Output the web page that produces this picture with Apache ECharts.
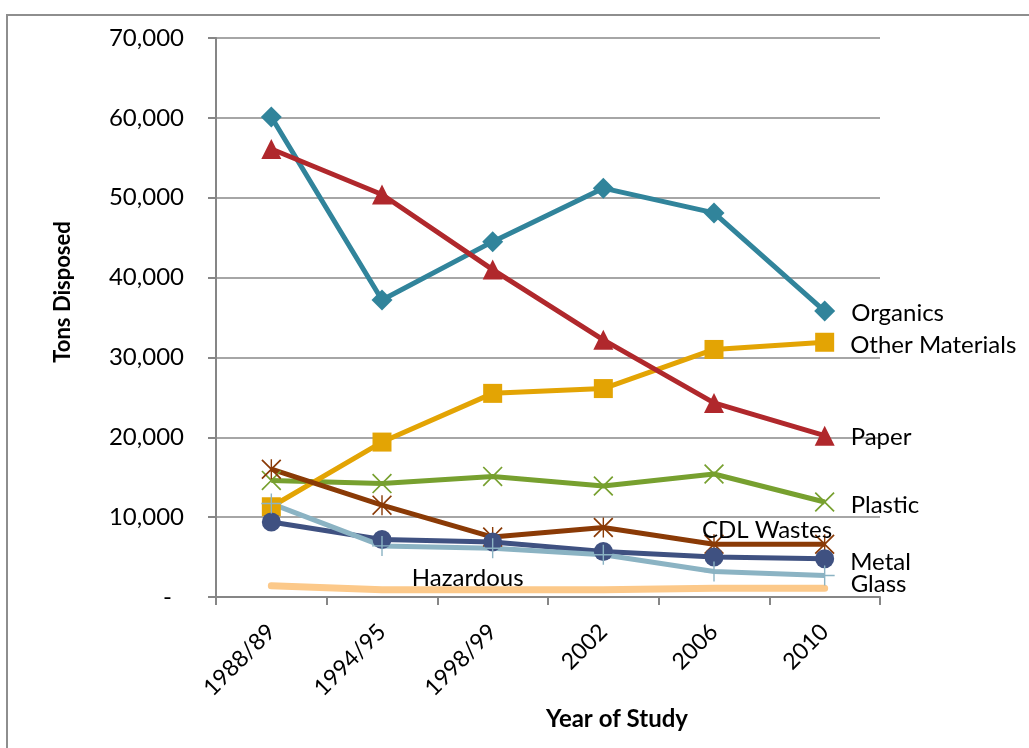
<!DOCTYPE html>
<html>
<head>
<meta charset="utf-8">
<script src="https://cdn.jsdelivr.net/npm/echarts@6/dist/echarts.min.js"></script>
<style>
  html, body { margin: 0; padding: 0; background: #fff; }
  #chart { width: 1029px; height: 748px; }
</style>
</head>
<body>
<div id="chart"></div>
<script>
// Survey years on the category axis
const years = ['1988/89', '1994/95', '1998/99', '2002', '2006', '2010'];

// Tons disposed per material, one value per survey year
const organics       = [60100, 37200, 44500, 51200, 48100, 35800];
const paper          = [56100, 50400, 41000, 32200, 24300, 20200];
const otherMaterials = [11300, 19400, 25500, 26100, 31000, 31900];
const plastic        = [14600, 14200, 15100, 13900, 15400, 11900];
const cdlWastes      = [16000, 11500,  7500,  8700,  6600,  6600];
const metal          = [ 9400,  7200,  6900,  5700,  5000,  4800];
const glass          = [11700,  6400,  6100,  5300,  3200,  2700];
const hazardous      = [ 1400,   900,   900,   900,  1100,  1100];

// Y axis scale
const yMin = 0, yMax = 70000, yStep = 10000;

const FONT = 'Lato, "Open Sans", sans-serif';

// Thin stroke-like marker shapes
const xMark = 'path://M0,1.2 L1.2,0 L10,8.8 L18.8,0 L20,1.2 L11.2,10 L20,18.8 L18.8,20 L10,11.2 L1.2,20 L0,18.8 L8.8,10 Z';
const starMark = xMark.replace(' Z', ' Z M9.3,0 L10.7,0 L10.7,20 L9.3,20 Z');
const plusMark = 'path://M9.3,0 L10.7,0 L10.7,9.3 L20,9.3 L20,10.7 L10.7,10.7 L10.7,20 L9.3,20 L9.3,10.7 L0,10.7 L0,9.3 L9.3,9.3 Z';

const last = years.length - 1;

// Name label placed to the right of a series' final point
function endLabel(name, dy) {
  return {
    show: true,
    position: 'right',
    distance: 16,
    offset: [0, dy],
    color: '#000',
    fontFamily: FONT,
    fontSize: 24,
    formatter: p => (p.dataIndex === last ? name : '')
  };
}

function lineSeries(name, data, color, symbol, size, label, extra) {
  return Object.assign({
    name: name,
    type: 'line',
    data: data,
    symbol: symbol,
    symbolSize: size,
    showSymbol: true,
    lineStyle: { color: color, width: 5 },
    itemStyle: { color: color, borderWidth: 0 },
    label: label,
    emphasis: { disabled: true },
    animation: false,
    z: 3
  }, extra || {});
}

const chart = echarts.init(document.getElementById('chart'));

chart.setOption({
  animation: false,
  grid: { left: 216, right: 149, top: 38, bottom: 151, containLabel: false },
  xAxis: {
    type: 'category',
    data: years,
    boundaryGap: true,
    axisLine: { lineStyle: { color: '#868686', width: 2 } },
    axisTick: { show: true, length: 8, lineStyle: { color: '#868686', width: 2 } },
    axisLabel: {
      rotate: 45,
      margin: 31,
      color: '#000',
      fontFamily: FONT,
      fontSize: 23
    },
    splitLine: { show: false }
  },
  yAxis: {
    type: 'value',
    min: yMin,
    max: yMax,
    interval: yStep,
    axisLine: { show: true, lineStyle: { color: '#868686', width: 2 } },
    axisTick: { show: true, length: 8, lineStyle: { color: '#868686', width: 2 } },
    axisLabel: {
      margin: 32,
      color: '#000',
      fontFamily: FONT,
      fontSize: 24,
      formatter: v => (v === 0 ? '-\u2002' : v.toLocaleString('en-US'))
    },
    splitLine: { show: true, lineStyle: { color: '#a6a6a6', width: 2 } }
  },
  graphic: [
    {
      type: 'rect',
      shape: { x: 7, y: 15, width: 1100, height: 800 },
      style: { fill: 'none', stroke: '#8e8e8e', lineWidth: 2 },
      silent: true
    },
    {
      type: 'text',
      x: 63, y: 292,
      rotation: Math.PI / 2,
      style: {
        text: 'Tons Disposed',
        fill: '#000',
        font: 'bold 22px ' + FONT,
        align: 'center',
        verticalAlign: 'middle'
      }
    },
    {
      type: 'text',
      x: 617, y: 719,
      style: {
        text: 'Year of Study',
        fill: '#000',
        font: 'bold 24px ' + FONT,
        align: 'center',
        verticalAlign: 'middle'
      }
    }
  ],
  // Drawn bottom to top
  series: [
    lineSeries('Organics', organics, '#31849b', 'diamond', 21, endLabel('Organics', 2)),
    lineSeries('Plastic', plastic, '#77a02f', xMark, 20, endLabel('Plastic', 3)),
    lineSeries('Other Materials', otherMaterials, '#e3a404', 'rect', 19, endLabel('Other Materials', 3)),
    lineSeries('Paper', paper, '#b0282c', 'triangle', 20, endLabel('Paper', 2)),
    lineSeries('CDL Wastes', cdlWastes, '#8a3a06', starMark, 20, {
      show: true,
      position: 'inside',
      offset: [53, -14],
      color: '#000',
      fontFamily: FONT,
      fontSize: 24,
      formatter: p => (p.dataIndex === 4 ? 'CDL Wastes' : '')
    }),
    lineSeries('Metal', metal, '#3f5181', 'circle', 19, endLabel('Metal', 4)),
    lineSeries('Glass', glass, '#8bb3c3', plusMark, 20, endLabel('Glass', 9)),
    lineSeries('Hazardous', hazardous, '#fcc98a', 'circle', 0.01, {
      show: true,
      position: 'inside',
      offset: [-25, -12],
      color: '#000',
      fontFamily: FONT,
      fontSize: 24,
      formatter: p => (p.dataIndex === 2 ? 'Hazardous' : '')
    }, { lineStyle: { color: '#fcc98a', width: 7, cap: 'round' }, z: 2 })
  ]
});
</script>
</body>
</html>
